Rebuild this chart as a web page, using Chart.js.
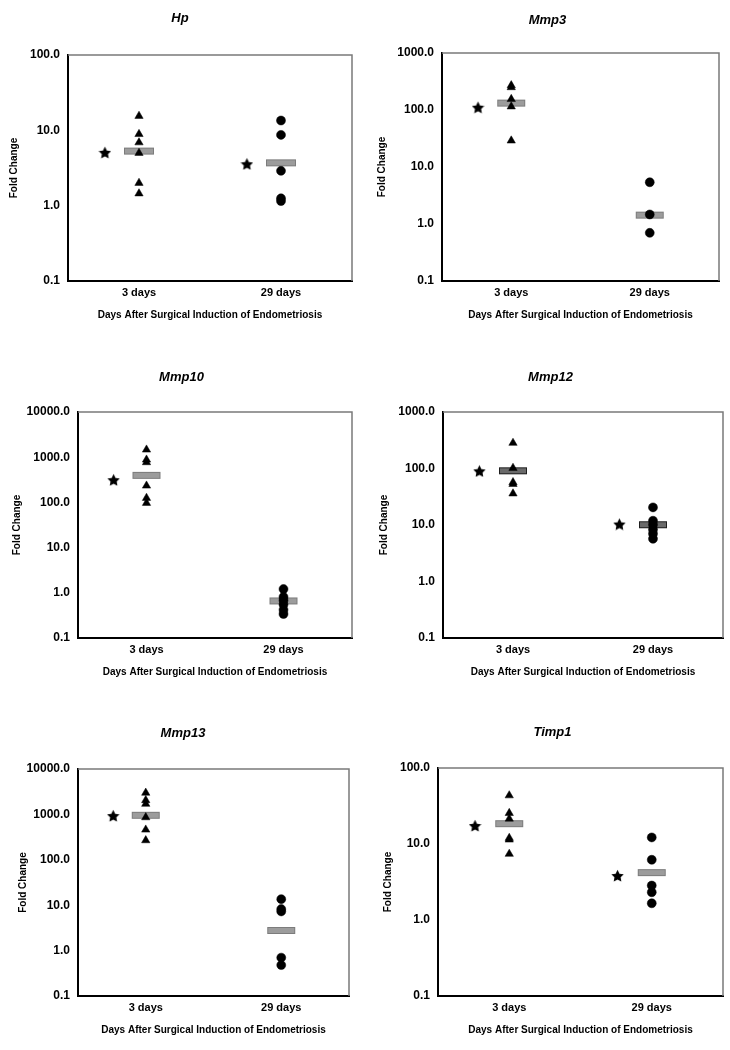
<!DOCTYPE html>
<html>
<head>
<meta charset="utf-8">
<script src="https://cdn.jsdelivr.net/npm/chart.js@4.4.1/dist/chart.umd.min.js"></script>
<style>
html,body{margin:0;padding:0;background:#fff;}
body{width:730px;height:1050px;position:relative;overflow:hidden;}
.panel{position:absolute;}
</style>
</head>
<body>
<div class="panel" id="p0"><canvas id="c0"></canvas></div>
<div class="panel" id="p1"><canvas id="c1"></canvas></div>
<div class="panel" id="p2"><canvas id="c2"></canvas></div>
<div class="panel" id="p3"><canvas id="c3"></canvas></div>
<div class="panel" id="p4"><canvas id="c4"></canvas></div>
<div class="panel" id="p5"><canvas id="c5"></canvas></div>
<script>
// ---------- data ----------
const categories = ['3 days', '29 days'];
const xAxisTitle = 'Days After Surgical Induction of Endometriosis';
const yAxisTitle = 'Fold Change';

// Hp
const hpDay3 = [15.5, 8.9, 6.9, 5.0, 2.0, 1.45];
const hpDay29 = [13.5, 8.7, 2.9, 1.25, 1.15];
const hpMedians = [5.3, 3.7];
const hpStars = [5.1, 3.6];
const hpTicks = [0.1, 1, 10, 100];

// Mmp3
const mmp3Day3 = [270, 250, 155, 115, 29];
const mmp3Day29 = [5.4, 1.47, 0.70];
const mmp3Medians = [132, 1.43];
const mmp3Stars = [112, null];
const mmp3Ticks = [0.1, 1, 10, 100, 1000];

// Mmp10
const mmp10Day3 = [1466, 880, 770, 234, 125, 97];
const mmp10Day29 = [1.21, 0.81, 0.68, 0.55, 0.42, 0.34];
const mmp10Medians = [396, 0.66];
const mmp10Stars = [318, null];
const mmp10Ticks = [0.1, 1, 10, 100, 1000, 10000];

// Mmp12
const mmp12Day3 = [283, 102, 57, 53, 36];
const mmp12Day29 = [20.5, 11.9, 10.1, 8.3, 7.0, 5.7];
const mmp12Medians = [91, 10.1];
const mmp12Stars = [91, 10.4];
const mmp12Ticks = [0.1, 1, 10, 100, 1000];

// Mmp13
const mmp13Day3 = [2985, 2050, 1700, 860, 460, 268];
const mmp13Day29 = [13.6, 8.2, 7.3, 0.70, 0.48];
const mmp13Medians = [955, 2.77];
const mmp13Stars = [942, null];
const mmp13Ticks = [0.1, 1, 10, 100, 1000, 10000];

// Timp1
const timp1Day3 = [43.5, 25.5, 21.5, 12.0, 11.4, 7.4];
const timp1Day29 = [12.2, 6.2, 2.84, 2.32, 1.66];
const timp1Medians = [18.5, 4.2];
const timp1Stars = [17.5, 3.85];
const timp1Ticks = [0.1, 1, 10, 100];

// ---------- styling / layout ----------
const FONT = '"Liberation Sans", Arial, Helvetica, sans-serif';
const STAR_DX = -0.24;

function makeStar(size) {
  const c = document.createElement('canvas');
  c.width = size; c.height = size;
  const g = c.getContext('2d');
  g.fillStyle = '#000';
  g.beginPath();
  const cx = size / 2, cy = size / 2 + 0.8, R = size / 2, r = R * 0.5;
  for (let i = 0; i < 10; i++) {
    const a = -Math.PI / 2 + i * Math.PI / 5;
    const rr = i % 2 ? r : R;
    g.lineTo(cx + rr * Math.cos(a), cy + rr * Math.sin(a));
  }
  g.closePath();
  g.fill();
  return c;
}
const starImg = makeStar(13);

const framePlugin = {
  id: 'frame',
  beforeDatasetsDraw(chart) {
    const {ctx, chartArea: {left, top, right, bottom}} = chart;
    ctx.save();
    ctx.strokeStyle = '#7a7a7a';
    ctx.lineWidth = 1.5;
    ctx.beginPath();
    ctx.moveTo(left, top);
    ctx.lineTo(right, top);
    ctx.lineTo(right, bottom);
    ctx.stroke();
    ctx.restore();
  }
};

function pts(x, arr) { return arr.map(v => ({x: x, y: v})); }

function buildPanel(idx, spec) {
  const TITLE_LH = 13 * 1.2;
  const YT_LH = 10 * 1.2;
  const padTop = spec.titleY - spec.y0 - TITLE_LH / 2;
  const titlePadBottom = spec.area.t - spec.y0 - padTop - TITLE_LH;
  const padLeft = spec.yTitleX - spec.x0 - YT_LH / 2;
  const yWidth = spec.area.l - spec.x0 - padLeft;
  const padRight = spec.x0 + 365 - spec.area.r;
  const H = spec.area.b - spec.y0 + 40;

  const div = document.getElementById('p' + idx);
  div.style.left = spec.x0 + 'px';
  div.style.top = spec.y0 + 'px';
  div.style.width = '365px';
  div.style.height = H + 'px';

  const medianPts = spec.medians.map((v, i) => ({x: i + 0.5, y: v}));
  const starPts = spec.stars.map((v, i) => v == null ? null : {x: i + 0.5 + STAR_DX, y: v}).filter(Boolean);

  new Chart(document.getElementById('c' + idx), {
    type: 'scatter',
    data: {
      datasets: [
        {label: categories[0], data: pts(0.5, spec.day3), pointStyle: 'triangle', pointRadius: 4.8,
         backgroundColor: '#000', borderColor: '#000', borderWidth: 0.5},
        {label: categories[1], data: pts(1.5, spec.day29), pointStyle: 'circle', pointRadius: 4.5,
         backgroundColor: '#000', borderColor: '#000', borderWidth: 0.5},
        {label: 'significant', data: starPts, pointStyle: starImg, pointRadius: 6.5,
         backgroundColor: '#000', borderColor: '#000'},
        {label: 'median', data: medianPts, pointStyle: 'line', pointRadius: spec.barHalf - 1,
         borderWidth: 5, borderColor: spec.barFill, backgroundColor: spec.barFill},
        {label: 'median edge', data: medianPts, pointStyle: 'line', pointRadius: spec.barHalf,
         borderWidth: 7, borderColor: spec.barEdge, backgroundColor: spec.barEdge}
      ]
    },
    options: {
      responsive: true,
      maintainAspectRatio: false,
      animation: false,
      events: [],
      layout: {autoPadding: false, padding: {top: padTop, left: padLeft, right: padRight, bottom: 0}},
      plugins: {
        legend: {display: false},
        tooltip: {enabled: false},
        title: {display: true, text: spec.title, color: '#000',
                font: {family: FONT, size: 13, weight: 'bold', style: 'italic'},
                padding: {top: 0, bottom: titlePadBottom}}
      },
      scales: {
        x: {
          type: 'linear', min: 0, max: 2,
          grid: {display: false, drawTicks: false},
          border: {display: true, color: '#000', width: 2},
          afterBuildTicks: s => { s.ticks = categories.map((c, i) => ({value: i + 0.5})); },
          ticks: {callback: (v, i) => categories[i], color: '#000', padding: 5,
                  maxRotation: 0, autoSkip: false,
                  font: {family: FONT, size: 11, weight: 'bold'}},
          title: {display: true, text: xAxisTitle, color: '#000', padding: {top: 0, bottom: 0},
                  font: {family: FONT, size: 10, weight: 'bold'}},
          afterFit: s => { s.height = 40; s.paddingLeft = 0; s.paddingRight = 0; }
        },
        y: {
          type: 'logarithmic', min: spec.ticks[0], max: spec.ticks[spec.ticks.length - 1],
          grid: {display: false, drawTicks: false},
          border: {display: true, color: '#000', width: 2},
          afterBuildTicks: s => { s.ticks = spec.ticks.map(v => ({value: v})); },
          ticks: {callback: v => Number(v).toFixed(1), color: '#000', padding: 8,
                  autoSkip: false, font: {family: FONT, size: 12, weight: 'bold'}},
          title: {display: true, text: yAxisTitle, color: '#000', padding: {top: 0, bottom: 0},
                  font: {family: FONT, size: 10, weight: 'bold'}},
          afterFit: s => { s.width = yWidth; s.paddingTop = 0; s.paddingBottom = 0; }
        }
      }
    },
    plugins: [framePlugin]
  });
}

const GRAY_FILL = '#9c9c9c', GRAY_EDGE = '#7c7c7c';
buildPanel(0, {title: 'Hp', day3: hpDay3, day29: hpDay29, medians: hpMedians, stars: hpStars, ticks: hpTicks,
  x0: 0, y0: 0, area: {l: 68, t: 55, r: 352, b: 281}, titleY: 18, yTitleX: 14, barHalf: 15, barFill: GRAY_FILL, barEdge: GRAY_EDGE});
buildPanel(1, {title: 'Mmp3', day3: mmp3Day3, day29: mmp3Day29, medians: mmp3Medians, stars: mmp3Stars, ticks: mmp3Ticks,
  x0: 365, y0: 0, area: {l: 442, t: 53, r: 719, b: 281}, titleY: 20, yTitleX: 382, barHalf: 14, barFill: GRAY_FILL, barEdge: GRAY_EDGE});
buildPanel(2, {title: 'Mmp10', day3: mmp10Day3, day29: mmp10Day29, medians: mmp10Medians, stars: mmp10Stars, ticks: mmp10Ticks,
  x0: 0, y0: 360, area: {l: 78, t: 412, r: 352, b: 638}, titleY: 377, yTitleX: 17, barHalf: 14, barFill: GRAY_FILL, barEdge: GRAY_EDGE});
buildPanel(3, {title: 'Mmp12', day3: mmp12Day3, day29: mmp12Day29, medians: mmp12Medians, stars: mmp12Stars, ticks: mmp12Ticks,
  x0: 365, y0: 360, area: {l: 443, t: 412, r: 723, b: 638}, titleY: 377, yTitleX: 384, barHalf: 14, barFill: '#6a6a6a', barEdge: '#1e1e1e'});
buildPanel(4, {title: 'Mmp13', day3: mmp13Day3, day29: mmp13Day29, medians: mmp13Medians, stars: mmp13Stars, ticks: mmp13Ticks,
  x0: 0, y0: 710, area: {l: 78, t: 769, r: 349, b: 996}, titleY: 733, yTitleX: 23, barHalf: 14, barFill: GRAY_FILL, barEdge: GRAY_EDGE});
buildPanel(5, {title: 'Timp1', day3: timp1Day3, day29: timp1Day29, medians: timp1Medians, stars: timp1Stars, ticks: timp1Ticks,
  x0: 365, y0: 710, area: {l: 438, t: 768, r: 723, b: 996}, titleY: 732, yTitleX: 388, barHalf: 14, barFill: GRAY_FILL, barEdge: GRAY_EDGE});
</script>
</body>
</html>
